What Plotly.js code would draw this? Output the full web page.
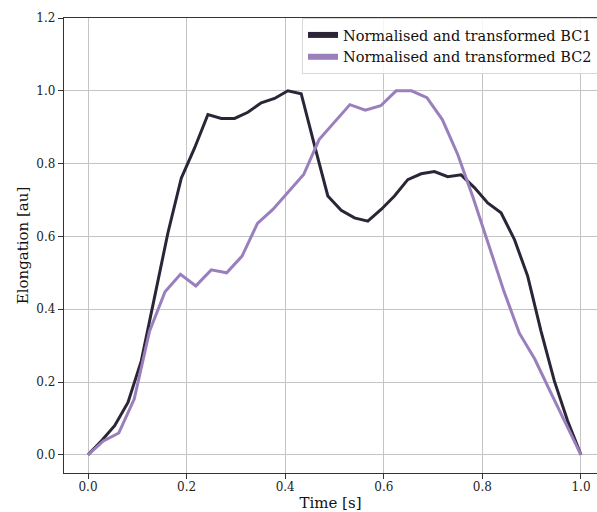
<!DOCTYPE html>
<html>
<head>
<meta charset="utf-8">
<script src="https://cdn.plot.ly/plotly-3.0.1.min.js"></script>
<style>html,body{margin:0;padding:0;background:#fff;}#chart{width:597px;height:512px;}</style>
</head>
<body>
<div id="chart"></div>
<script>
// BC1: 38 samples over [0, 1]
const bc1Time = Array.from({length: 38}, (_, i) => i / 37);
const bc1Values = [0, 0.038, 0.08, 0.144, 0.258, 0.43, 0.61, 0.76, 0.843, 0.935,
  0.924, 0.924, 0.941, 0.967, 0.979, 1.0, 0.992, 0.85, 0.711, 0.672,
  0.651, 0.642, 0.674, 0.711, 0.756, 0.772, 0.778, 0.764, 0.769, 0.734,
  0.692, 0.665, 0.592, 0.491, 0.34, 0.203, 0.093, 0];
// BC2: 33 samples over [0, 1]
const bc2Time = Array.from({length: 33}, (_, i) => i / 32);
const bc2Values = [0, 0.038, 0.06, 0.153, 0.34, 0.448, 0.496, 0.464, 0.508, 0.5,
  0.546, 0.636, 0.674, 0.722, 0.77, 0.866, 0.915, 0.962, 0.947, 0.959,
  1.0, 1.0, 0.981, 0.921, 0.825, 0.706, 0.578, 0.449, 0.334, 0.263,
  0.174, 0.085, 0];
const seriesNames = ['Normalised and transformed BC1', 'Normalised and transformed BC2'];
const seriesColors = ['#2b2537', '#9a7fbd'];
const tickVals = [0, 0.2, 0.4, 0.6, 0.8, 1.0];
const yTickVals = [0, 0.2, 0.4, 0.6, 0.8, 1.0, 1.2];

const font = 'DejaVu Serif, serif';
const traces = [
  {x: bc1Time, y: bc1Values, name: seriesNames[0], mode: 'lines', showlegend: false,
   line: {color: seriesColors[0], width: 3}},
  {x: bc2Time, y: bc2Values, name: seriesNames[1], mode: 'lines', showlegend: false,
   line: {color: seriesColors[1], width: 3}},
  // legend-only entries (thicker legend handles as in the reference)
  {x: [null], y: [null], name: seriesNames[0], mode: 'lines', line: {color: seriesColors[0], width: 6}},
  {x: [null], y: [null], name: seriesNames[1], mode: 'lines', line: {color: seriesColors[1], width: 6}}
];
const layout = {
  width: 597, height: 512,
  margin: {l: 64, r: 0, t: 18, b: 39, autoexpand: false},
  paper_bgcolor: '#fff', plot_bgcolor: '#fff',
  font: {family: font, color: '#222', size: 12},
  showlegend: true,
  legend: {x: 0.4465, y: 1.0, xanchor: 'left', yanchor: 'top', bgcolor: 'rgba(255,255,255,0.85)',
    bordercolor: '#d8d8d8', borderwidth: 1, font: {family: font, size: 14.5, color: '#111'},
    itemwidth: 30, tracegroupgap: 0},
  xaxis: {range: [-0.0487, 1.0325], tickvals: tickVals, tickformat: '.1f', showgrid: true,
    gridcolor: '#c4c4c4', gridwidth: 1, zeroline: false, showline: true, mirror: true,
    linecolor: '#333', linewidth: 1.2, ticks: 'outside', ticklen: 5, tickcolor: '#333',
    ticklabelstandoff: -3, automargin: false,
    tickfont: {family: font, size: 12, color: '#222'},
    title: {text: 'Time [s]', font: {family: font, size: 15, color: '#111'}, standoff: 7}},
  yaxis: {range: [-0.05, 1.2], tickvals: yTickVals, tickformat: '.1f', showgrid: true,
    gridcolor: '#c4c4c4', gridwidth: 1, zeroline: false, showline: true, mirror: false,
    linecolor: '#333', linewidth: 1.2, ticks: 'outside', ticklen: 5, tickcolor: '#333',
    automargin: false,
    tickfont: {family: font, size: 12, color: '#222'},
    title: {text: 'Elongation [au]', font: {family: font, size: 15, color: '#111'}, standoff: 4}}
};
Plotly.newPlot('chart', traces, layout, {displayModeBar: false, staticPlot: true});
</script>
</body>
</html>
